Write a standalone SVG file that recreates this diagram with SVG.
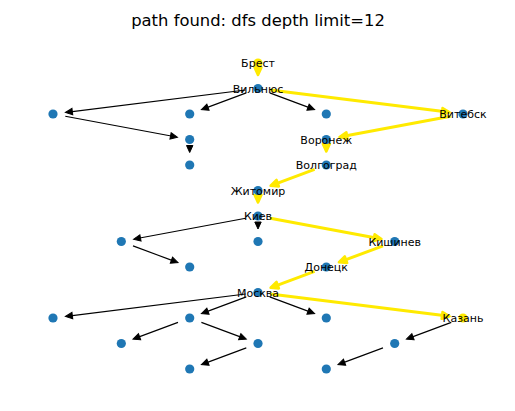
<svg xmlns="http://www.w3.org/2000/svg" width="515" height="411" viewBox="0 0 515 411">
<style>
.e{fill:none;stroke:#000;stroke-width:1.1;marker-end:url(#ah)}
.p{fill:none;stroke:#ffea00;stroke-width:3;marker-end:url(#ay)}
.n{fill:#1f77b4}
.s{fill:#ffea00}
.l{font-family:"DejaVu Sans",sans-serif;font-size:11px;fill:#000;text-anchor:middle}
.t{font-family:"DejaVu Sans",sans-serif;font-size:16.4px;fill:#000;text-anchor:middle}
</style>
<defs>
<marker id="ah" markerUnits="userSpaceOnUse" orient="auto" refX="0" refY="0" markerWidth="20" markerHeight="20" overflow="visible">
<path d="M-2,-3.2 L5,0 L-2,3.2 z" fill="#000" stroke="#000" stroke-width="1"/>
</marker>
<marker id="ay" markerUnits="userSpaceOnUse" orient="auto" refX="0" refY="0" markerWidth="20" markerHeight="20" overflow="visible">
<path d="M-3.5,-3.4 L4,0 L-3.5,3.4 z" fill="#ffea00" stroke="#ffea00" stroke-width="2.6" stroke-linejoin="round"/>
</marker>
</defs>
<rect width="515" height="411" fill="#fff"/>
<text class="t" x="258" y="25.5">path found: dfs depth limit=12</text>
<g id="edges">
<path class="e" d="M245.6,90.04 L70.37,111.84"/>
<path class="e" d="M246.29,92.87 L206.1,107.88"/>
<path class="e" d="M269.71,92.87 L309.9,107.88"/>
<path class="e" d="M65.29,116.29 L172.5,136.29"/>
<path class="e" d="M189.7,146.5 L189.7,147.5"/>
<path class="e" d="M245.71,218.29 L138.5,238.29"/>
<path class="e" d="M258,223 L258,224"/>
<path class="e" d="M133.01,245.87 L173.3,260.88"/>
<path class="e" d="M245.6,294.04 L70.37,315.84"/>
<path class="e" d="M246.29,296.87 L206.1,311.88"/>
<path class="e" d="M269.71,296.87 L309.9,311.88"/>
<path class="e" d="M177.99,322.37 L137.7,337.38"/>
<path class="e" d="M201.41,322.37 L241.6,337.38"/>
<path class="e" d="M246.29,347.87 L206.1,362.88"/>
<path class="e" d="M451.29,322.37 L411.1,337.38"/>
<path class="e" d="M382.99,347.87 L342.7,362.88"/>
<path class="p" d="M258,70 L258,71"/>
<path class="p" d="M270.4,90.04 L445.63,111.84"/>
<path class="p" d="M450.71,116.29 L343.5,136.29"/>
<path class="p" d="M326.3,146.5 L326.3,147.5"/>
<path class="p" d="M314.59,169.37 L274.4,184.38"/>
<path class="p" d="M258,197.5 L258,198.5"/>
<path class="p" d="M270.29,218.29 L377.5,238.29"/>
<path class="p" d="M382.99,245.87 L342.7,260.88"/>
<path class="p" d="M314.59,271.37 L274.4,286.38"/>
<path class="p" d="M270.4,294.04 L445.63,315.84"/>
</g>
<g id="n-brest"><circle class="s" cx="258" cy="63" r="4.6"/><text class="l" x="258" y="67">Брест</text></g>
<g id="n-vilnius"><circle class="n" cx="258" cy="88.5" r="4.6"/><text class="l" x="258" y="92.5">Вильнюс</text></g>
<g id="n-a1"><circle class="n" cx="53" cy="114" r="4.6"/></g>
<g id="n-a2"><circle class="n" cx="189.7" cy="114" r="4.6"/></g>
<g id="n-a3"><circle class="n" cx="326.3" cy="114" r="4.6"/></g>
<g id="n-vitebsk"><circle class="n" cx="463" cy="114" r="4.6"/><text class="l" x="463" y="118">Витебск</text></g>
<g id="n-c1"><circle class="n" cx="189.7" cy="139.5" r="4.6"/></g>
<g id="n-voronezh"><circle class="n" cx="326.3" cy="139.5" r="4.6"/><text class="l" x="326.3" y="143.5">Воронеж</text></g>
<g id="n-c2"><circle class="n" cx="189.7" cy="165" r="4.6"/></g>
<g id="n-volgograd"><circle class="n" cx="326.3" cy="165" r="4.6"/><text class="l" x="326.3" y="169">Волгоград</text></g>
<g id="n-zhitomir"><circle class="n" cx="258" cy="190.5" r="4.6"/><text class="l" x="258" y="194.5">Житомир</text></g>
<g id="n-kiev"><circle class="n" cx="258" cy="216" r="4.6"/><text class="l" x="258" y="220">Киев</text></g>
<g id="n-d1"><circle class="n" cx="121.3" cy="241.5" r="4.6"/></g>
<g id="n-d2"><circle class="n" cx="258" cy="241.5" r="4.6"/></g>
<g id="n-kishinev"><circle class="n" cx="394.7" cy="241.5" r="4.6"/><text class="l" x="394.7" y="245.5">Кишинев</text></g>
<g id="n-e1"><circle class="n" cx="189.7" cy="267" r="4.6"/></g>
<g id="n-donetsk"><circle class="n" cx="326.3" cy="267" r="4.6"/><text class="l" x="326.3" y="271">Донецк</text></g>
<g id="n-moskva"><circle class="n" cx="258" cy="292.5" r="4.6"/><text class="l" x="258" y="296.5">Москва</text></g>
<g id="n-f1"><circle class="n" cx="53" cy="318" r="4.6"/></g>
<g id="n-f2"><circle class="n" cx="189.7" cy="318" r="4.6"/></g>
<g id="n-f3"><circle class="n" cx="326.3" cy="318" r="4.6"/></g>
<g id="n-kazan"><circle class="s" cx="463" cy="318" r="4.6"/><text class="l" x="463" y="322">Казань</text></g>
<g id="n-g1"><circle class="n" cx="121.3" cy="343.5" r="4.6"/></g>
<g id="n-g2"><circle class="n" cx="258" cy="343.5" r="4.6"/></g>
<g id="n-g3"><circle class="n" cx="394.7" cy="343.5" r="4.6"/></g>
<g id="n-h1"><circle class="n" cx="189.7" cy="369" r="4.6"/></g>
<g id="n-h2"><circle class="n" cx="326.3" cy="369" r="4.6"/></g>
</svg>
